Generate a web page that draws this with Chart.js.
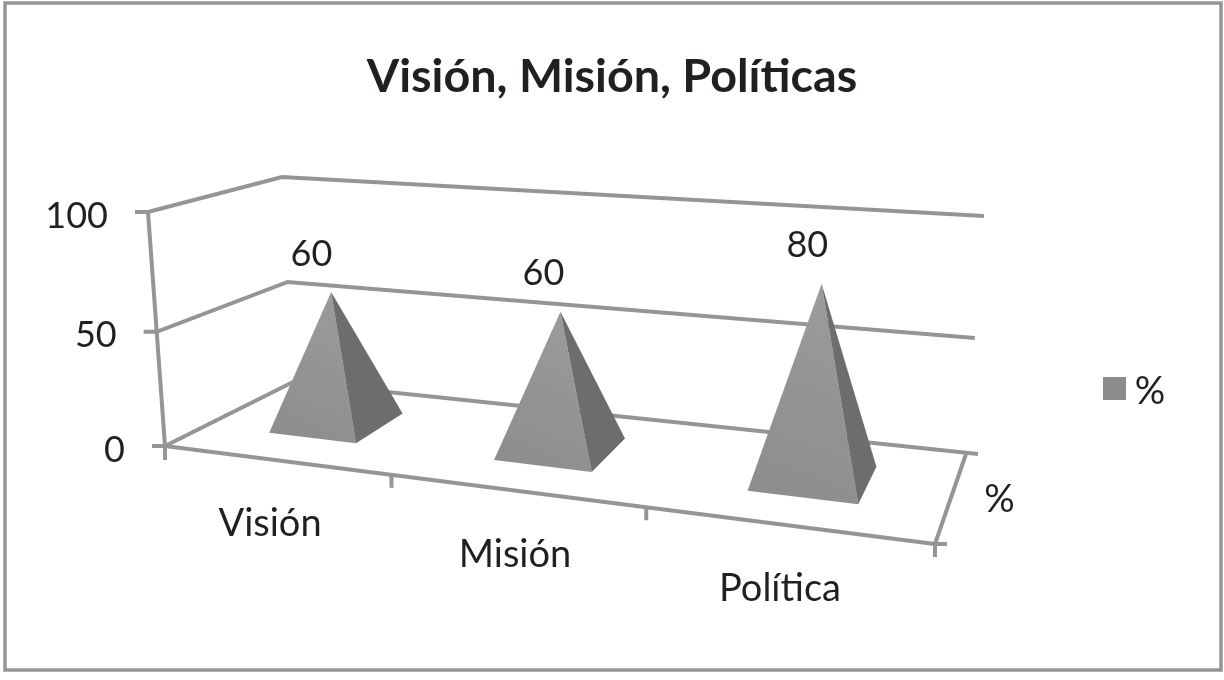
<!DOCTYPE html>
<html>
<head>
<meta charset="utf-8">
<title>Visión, Misión, Políticas</title>
<script src="https://cdn.jsdelivr.net/npm/chart.js@4"></script>
<style>
  html, body { margin: 0; padding: 0; background: #fff; }
  canvas { display: block; }
</style>
</head>
<body>
<canvas id="pyramidChart" width="1224" height="680"></canvas>
<script>
const chartTitle = "Visión, Misión, Políticas";
const categories = ["Visión", "Misión", "Política"];
const seriesLabel = "%";
const seriesValues = [60, 60, 80];
const yTickValues = [0, 50, 100];

const textColor = "#231f20";
const lineColor = "#949597";
const fontFamily = "Lato, 'Open Sans', sans-serif";
const digitSize = 36;
const wordSize = 38;
const categoryNudge = [-5, 0, -6];

// corners of the 3d box as excel drew it: [front, back] -> [bottom, top]
const box = {
  left: { front: [[165, 446], [148, 212]], back: [[293, 382], [282, 177]] },
  right: { front: [[935, 544], [951, 272]], back: [[966, 454], [984, 216]] }
};
const xPerspective = 1.2;
const yPerspective = 1.05;
const pyramidDepth = 0.54;
const pyramidHalfDepth = 0.215;

function mix(a, b, t) {
  return [a[0] + (b[0] - a[0]) * t, a[1] + (b[1] - a[1]) * t];
}

// u: 0-1 along the categories, v: 0-1 up the value axis, d: 0 front, 1 back
function project(u, v, d) {
  const U = u / (u + (1 - u) * xPerspective);
  const V = v / (v + (1 - v) * yPerspective);
  const atSide = side => mix(
    mix(side.front[0], side.front[1], V),
    mix(side.back[0], side.back[1], V),
    d
  );
  return mix(atSide(box.left), atSide(box.right), U);
}

function polyline(ctx, points) {
  ctx.beginPath();
  points.forEach((p, i) => (i ? ctx.lineTo(p[0], p[1]) : ctx.moveTo(p[0], p[1])));
}

function label(ctx, text, x, y, size, align) {
  ctx.font = size + "px " + fontFamily;
  ctx.fillStyle = textColor;
  ctx.textAlign = align || "center";
  ctx.textBaseline = "middle";
  ctx.fillText(text, x, y);
}

const pyramid3d = {
  id: "pyramid3d",
  beforeDraw(chart) {
    const ctx = chart.ctx;
    ctx.save();
    ctx.fillStyle = "#fff";
    ctx.fillRect(0, 0, chart.width, chart.height);
    ctx.strokeStyle = lineColor;
    ctx.lineWidth = 3.5;
    ctx.strokeRect(5, 3, 1216, 667);
    ctx.restore();
  },
  afterDatasetsDraw(chart) {
    const ctx = chart.ctx;
    const xs = chart.scales.x;
    const ys = chart.scales.y;
    const toU = px => (px - xs.left) / (xs.right - xs.left);
    const toV = px => (ys.bottom - px) / (ys.bottom - ys.top);

    ctx.save();
    ctx.strokeStyle = lineColor;
    ctx.lineWidth = 4;
    ctx.lineJoin = "miter";

    // walls and value ticks
    ys.ticks.forEach(t => {
      const v = toV(ys.getPixelForValue(t.value));
      const a = project(0, v, 0);
      const b = project(0, v, 1);
      const c = project(1, v, 1);
      polyline(ctx, [[a[0] - 13, a[1]], a, b, [c[0] + (v === 0 ? 12 : 0), c[1]]]);
      ctx.stroke();
      label(ctx, String(t.value), a[0] - 40, a[1] + 4, digitSize, "right");
    });
    const origin = project(0, 0, 0);
    polyline(ctx, [project(0, 1, 0), origin, [origin[0], origin[1] + 14]]);
    ctx.stroke();

    // floor front edge, depth edge, ticks between the categories
    const fr = project(1, 0, 0);
    polyline(ctx, [origin, fr, project(1, 0, 1)]);
    ctx.stroke();
    polyline(ctx, [[fr[0], fr[1] + 13], fr, [fr[0] + 12, fr[1]]]);
    ctx.stroke();
    categories.slice(0, -1).forEach((c, i) => {
      const p = project((i + 1) / categories.length, 0, 0);
      polyline(ctx, [p, [p[0], p[1] + 13]]);
      ctx.stroke();
    });
    const depthMid = project(1, 0, 0.5);
    label(ctx, seriesLabel, depthMid[0] + 49, depthMid[1] + 1, wordSize);

    // pyramids, placed from the bar elements of the library
    const bars = chart.getDatasetMeta(0).data;
    bars.forEach((bar, i) => {
      const uL = toU(bar.x - bar.width / 2);
      const uR = toU(bar.x + bar.width / 2);
      const uC = toU(bar.x);
      const dF = pyramidDepth - pyramidHalfDepth;
      const dB = pyramidDepth + pyramidHalfDepth;
      const fl = project(uL, 0, dF);
      const frb = project(uR, 0, dF);
      const br = project(uR, 0, dB);
      const apex = project(uC, toV(bar.y), pyramidDepth);

      const grad = ctx.createLinearGradient(fl[0], fl[1], apex[0], apex[1]);
      grad.addColorStop(0, "#8c8d8f");
      grad.addColorStop(1, "#9a9b9d");
      polyline(ctx, [fl, frb, apex]);
      ctx.closePath();
      ctx.fillStyle = grad;
      ctx.fill();

      polyline(ctx, [frb, br, apex]);
      ctx.closePath();
      ctx.fillStyle = "#6c6d6f";
      ctx.fill();

      label(ctx, String(seriesValues[i]), apex[0] - 21 + 8 * uC, apex[1] - 38, digitSize);

      const front = project(uC, 0, 0);
      label(ctx, categories[i], front[0] + categoryNudge[i], front[1] + 64, wordSize);
    });

    // legend
    ctx.fillStyle = "#8b8c8e";
    ctx.fillRect(1103, 377, 23, 23);
    label(ctx, seriesLabel, 1150, 392, wordSize);
    ctx.restore();
  }
};

new Chart(document.getElementById("pyramidChart"), {
  type: "bar",
  data: {
    labels: categories,
    datasets: [{
      label: seriesLabel,
      data: seriesValues,
      backgroundColor: "rgba(0,0,0,0)",
      barPercentage: 0.4,
      categoryPercentage: 1
    }]
  },
  options: {
    responsive: false,
    animation: false,
    layout: { padding: { top: 0, bottom: 234 } },
    plugins: {
      legend: { display: false },
      tooltip: { enabled: false },
      title: {
        display: true,
        text: chartTitle,
        color: textColor,
        font: { family: fontFamily, size: 46.7, weight: "bold" },
        padding: { top: 49, bottom: 60 }
      }
    },
    scales: {
      x: { grid: { display: false }, border: { display: false }, ticks: { display: false } },
      y: {
        min: 0,
        max: 100,
        afterBuildTicks: axis => { axis.ticks = yTickValues.map(v => ({ value: v })); },
        grid: { display: false },
        border: { display: false },
        ticks: { display: false }
      }
    }
  },
  plugins: [pyramid3d]
});
</script>
</body>
</html>
